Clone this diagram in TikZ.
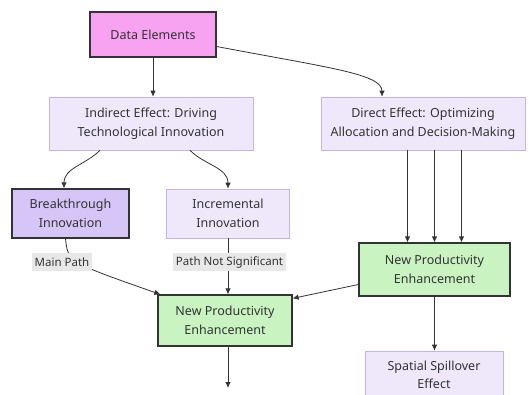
\documentclass[tikz,border=0pt]{standalone}
\usepackage{fontspec}
\setmainfont{Noto Sans}
\usetikzlibrary{arrows.meta}

\definecolor{ink}{HTML}{333333}
\definecolor{pinkfill}{HTML}{F8A2F2}
\definecolor{lavfill}{HTML}{EFE8FB}
\definecolor{lavline}{HTML}{C6B3EE}
\definecolor{purplefill}{HTML}{D6C5F7}
\definecolor{greenfill}{HTML}{C9F4C2}
\definecolor{tagbg}{HTML}{E8E8E8}

\begin{document}
\begin{tikzpicture}[x=1pt, y=-1pt,
	box/.style={draw=ink, line width=1.2pt, align=center, text=ink, inner sep=0pt, font={\fontsize{12.5}{18.5}\selectfont}},
	soft/.style={box, draw=lavline, line width=0.6pt, fill=lavfill},
	tag/.style={fill=tagbg, text=ink, inner xsep=3pt, inner ysep=0pt, minimum height=18pt, font={\fontsize{11.5}{13}\selectfont}},
	arr/.style={draw=ink, line width=0.8pt, -{Latex[length=6pt, width=5.5pt]}}]
	\useasboundingbox (0,0) rectangle (530,395);
	\fill[white] (0,0) rectangle (530,395);

	\node[box, fill=pinkfill, minimum width=126pt, minimum height=45pt] (data) at (153,34.5) {Data Elements};
	\node[soft, minimum width=204pt, minimum height=53pt] (indirect) at (151,123.5) {Indirect Effect: Driving\\Technological Innovation};
	\node[soft, minimum width=204pt, minimum height=53pt] (direct) at (423,123.5) {Direct Effect: Optimizing\\Allocation and Decision-Making};
	\node[box, fill=purplefill, minimum width=117pt, minimum height=49pt] (breakthrough) at (70.5,213.5) {Breakthrough\\Innovation};
	\node[soft, minimum width=123pt, minimum height=49pt] (incremental) at (228,213.5) {Incremental\\Innovation};
	\node[box, fill=greenfill, minimum width=134pt, minimum height=51pt] (npeleft) at (225,320.5) {New Productivity\\Enhancement};
	\node[box, fill=greenfill, minimum width=151pt, minimum height=53pt] (neright) at (434.5,269.5) {New Productivity\\Enhancement};
	\node[soft, minimum width=138pt, minimum height=48pt] (spillover) at (434,375) {Spatial Spillover\\Effect};
	\coordinate (exit) at (228,388);

	\draw[arr] (data.south) -- (data.south |- indirect.north);
	\draw[arr] ([yshift=-12pt]data.east) .. controls (330,68) and (382,74) .. ([xshift=-41pt]direct.north);
	\draw[arr] ([xshift=-51pt]indirect.south) to[out=-135, in=90] ([xshift=-6.5pt]breakthrough.north);
	\draw[arr] ([xshift=39pt]indirect.south) to[out=-45, in=90] (incremental.north);
	\draw[arr] ([xshift=-5pt]breakthrough.south) .. controls (68,262) .. ([xshift=3pt]npeleft.north west);
	\draw[arr] (incremental.south) -- (incremental.south |- npeleft.north);
	\foreach \dx in {-27,0,27} {
		\path (neright.north) ++(\dx,0) coordinate (drop);
		\draw[arr] (drop |- direct.south) -- (drop);
	}
	\draw[arr] ([yshift=-15pt]neright.west) -- ([yshift=-4pt]npeleft.north east);
	\draw[arr] (neright.south) -- (neright.south |- spillover.north);
	\draw[arr] (exit |- npeleft.south) -- (exit);

	\node[tag] (mainpath) at (62,262) {Main Path};
	\node[tag] (notsig) at (229.5,262) {Path Not Significant};
\end{tikzpicture}
\end{document}
